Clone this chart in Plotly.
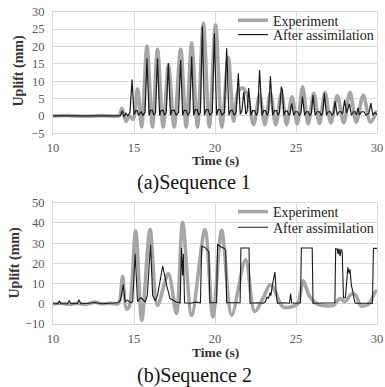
import plotly.graph_objects as go

# ---------------- data ----------------
# (a) Sequence 1 : Experiment
exp1_t = [10.0, 11.0, 12.0, 13.0, 14.0, 14.12, 14.25, 14.38, 14.52, 14.72, 14.95, 15.22, 15.47,
          15.8, 16.14, 16.45, 16.8, 17.13, 17.48, 17.88, 18.22, 18.56, 18.92, 19.28, 19.65,
          20.03, 20.42, 20.82, 21.15, 21.42, 21.72, 22.0, 22.38, 22.75, 23.08, 23.42, 23.75,
          24.1, 24.42, 24.75, 25.08, 25.41, 25.75, 26.1, 26.45, 26.79, 27.15, 27.55, 27.95,
          28.33, 28.72, 29.15, 29.6, 30.0]
exp1_y = [0.0, 0.1, -0.1, 0.1, 0.0, 0.3, 2.2, 0.2, -1.6, 0.0, -1.0, 7.8, -3.2,
          20.1, -3.2, 19.2, -3.2, 14.5, -3.2, 19.2, -3.2, 21.0, -3.2, 26.7, -3.2,
          26.2, -3.2, 16.8, -1.5, 7.0, 8.0, 6.0, -2.5, 6.0, -2.5, 6.5, -2.5,
          6.5, -2.5, 5.5, -2.3, 8.4, -2.3, 6.5, -2.2, 6.8, -2.0, 5.8, -2.0,
          6.8, -1.8, 6.0, -1.8, 1.5]

# (a) Sequence 1 : After assimilation
asm1_t = [10.0, 14.15, 14.28, 14.38, 14.5, 14.62, 14.75, 14.88,
          15.0, 15.1, 15.2, 15.28, 15.45, 15.55, 15.68, 15.8,
          15.93, 16.02, 16.14, 16.22, 16.33, 16.45,
          16.58, 16.67, 16.8, 16.88, 16.99, 17.12,
          17.25, 17.35, 17.5, 17.6, 17.75, 17.88,
          18.0, 18.1, 18.22, 18.32, 18.44, 18.56,
          18.68, 18.78, 18.9, 19.0, 19.1, 19.22,
          19.35, 19.45, 19.58, 19.68, 19.83, 19.96,
          20.1, 20.2, 20.32, 20.42, 20.58, 20.72,
          20.86, 20.96, 21.08, 21.18, 21.3, 21.44,
          21.56, 21.66, 21.78, 21.9, 21.98, 22.08,
          22.22, 22.32, 22.45, 22.55, 22.64, 22.75,
          22.9, 23.0, 23.12, 23.22, 23.3, 23.42,
          23.56, 23.66, 23.8, 23.9, 23.98, 24.09, 24.16,
          24.25, 24.35, 24.47, 24.56, 24.64, 24.73,
          24.86, 24.96, 25.1, 25.2, 25.3, 25.4,
          25.53, 25.63, 25.76, 25.86, 25.95, 26.05,
          26.18, 26.3, 26.45, 26.55, 26.65, 26.75,
          26.88, 26.98, 27.12, 27.22, 27.32, 27.41,
          27.55, 27.65, 27.78, 27.88, 28.0, 28.12, 28.3,
          28.42, 28.55, 28.65, 28.74, 28.82, 28.92,
          29.05, 29.2, 29.32, 29.5, 29.62, 29.74, 29.85, 30.0]
asm1_y = [0.0, 0.0, 1.5, -0.3, 0.8, 0.0, 1.0, 10.5,
          0.3, 1.5, 1.5, 0.2, 1.2, 0.2, 1.0, 16.6,
          0.2, 1.6, 1.6, 0.2, 1.0, 16.5,
          0.2, 1.6, 1.6, 0.2, 1.0, 15.2,
          0.2, 1.6, 1.6, 0.2, 1.0, 16.1,
          0.2, 1.6, 1.6, 0.2, 1.0, 17.1,
          0.2, 1.8, 1.8, 0.2, 1.0, 25.8,
          0.2, 1.8, 1.8, 0.2, 1.0, 23.8,
          0.2, 1.8, 1.8, 0.2, 1.0, 19.5,
          0.2, 1.6, 1.6, 0.2, 1.0, 12.3,
          0.5, 1.5, 7.0, 0.5, 1.2, 8.0,
          0.2, 1.5, 1.5, 0.2, 1.0, 13.2,
          0.2, 1.5, 1.5, 0.2, 1.0, 11.4,
          0.2, 1.5, 1.5, 0.2, 1.0, 8.4, 7.4,
          0.2, 1.4, 1.4, 0.2, 0.8, 3.6,
          0.2, 1.2, 1.2, 0.2, 0.8, 5.6,
          0.2, 1.2, 1.2, 0.2, 0.8, 6.0,
          0.2, 1.2, 1.2, 0.2, 0.8, 6.5,
          0.2, 1.2, 1.2, 0.2, 0.8, 4.2,
          0.2, 1.2, 1.2, 0.5, 4.6, 0.8, 3.5,
          0.2, 1.2, 1.2, 0.3, 2.3, 0.3,
          1.2, 1.2, 0.2, 0.8, 3.7, 0.2, 1.0, 0.5]

# (b) Sequence 2 : Experiment
exp2_t = [10.0, 10.5, 11.0, 11.5, 12.0, 12.6, 13.0, 13.5, 14.0, 14.12, 14.3, 14.53, 14.7,
          15.1, 15.48, 15.99, 16.45, 17.12, 17.62, 18.0, 18.56, 19.38, 19.87, 20.41, 21.03,
          21.88, 22.45, 22.95, 23.4, 23.6, 24.2, 24.7, 25.1, 25.45, 25.8, 26.28, 26.8, 27.3,
          27.72, 28.0, 28.45, 28.7, 29.0, 29.5, 29.88, 30.0]
exp2_y = [0.0, 0.3, -0.2, 0.3, -0.3, 0.8, 0.0, 0.3, 0.0, 1.5, 13.6, -2.6, -1.5,
          36.0, -8.2, 36.7, -0.8, 14.9, -4.8, 40.2, -5.7, 36.7, -6.5, 36.3, -5.7,
          21.7, -3.8, 2.5, 9.5, 8.0, -1.6, -1.5, 0.0, 11.4, 4.2, 0.0, -1.0, -0.8,
          2.6, 1.0, 5.0, 4.2, -1.0, 0.0, 5.8, 6.5]

# (b) Sequence 2 : After assimilation
asm2_t = [10.0, 10.3, 10.39, 10.5, 10.9, 11.0, 11.1, 11.5, 11.6, 11.72, 12.2, 12.6, 13.0,
          13.6, 14.0, 14.15, 14.34, 14.45, 14.6, 14.8, 14.92, 15.07, 15.22, 15.35, 15.45,
          15.55, 15.7, 15.82, 16.02, 16.15, 16.3, 16.45, 16.77, 17.02, 17.22, 17.4, 17.6,
          17.85, 17.93, 18.0, 18.05, 18.12, 18.5, 18.8, 19.1, 19.18, 19.35, 19.55, 19.62,
          19.68, 20.0, 20.1, 20.16, 20.3, 20.55, 20.66, 20.72, 21.0, 21.3, 21.55, 21.6,
          22.1, 22.16, 22.6, 23.0, 23.12, 23.2, 23.3, 23.4, 23.45, 23.54, 23.62, 23.7,
          23.78, 23.85, 24.3, 24.6, 24.67, 24.73, 25.0, 25.28, 25.33, 26.0, 26.05, 26.6,
          27.0, 27.4, 27.45, 27.55, 27.6, 27.65, 27.72, 27.78, 27.85, 27.93, 28.05, 28.2,
          28.28, 28.33, 28.42, 28.5, 28.58, 28.65, 29.0, 29.4, 29.72, 29.78, 30.0]
asm2_y = [0.0, 0.0, 1.3, 0.0, 0.0, 1.6, 0.0, 0.2, 2.0, 0.0, 0.3, 0.6, 0.0,
          0.3, 0.5, 1.5, 9.5, 1.0, 1.8, 0.5, 1.0, 24.8, 1.0, 2.5, 3.0,
          2.0, 1.0, 4.0, 29.3, 4.2, 1.5, 4.0, 18.7, 9.1, 2.6, 1.9, 0.9,
          0.5, 27.6, 14.0, 24.8, 0.5, 0.3, 0.8, 0.5, 28.5, 28.0, 26.5, 25.5,
          0.5, 0.3, 0.5, 29.5, 28.5, 27.5, 26.5, 0.5, 0.5, 0.3, 0.5, 27.6,
          27.6, 0.3, 0.5, 0.3, 1.0, 3.4, 2.5, 5.5, 4.0, 9.1, 12.0, 15.7,
          5.0, 0.3, 0.5, 0.3, 5.0, 0.5, 0.3, 0.5, 27.6, 27.6, 0.3, 0.3,
          0.3, 0.5, 27.3, 27.0, 24.6, 27.3, 23.6, 27.0, 26.0, 3.0, 3.0, 18.0,
          15.0, 17.0, 9.0, 6.5, 2.5, 0.3, 0.3, 0.5, 0.3, 27.4, 27.4]

x_ticks = [10, 15, 20, 25, 30]
y1_ticks = [-5, 0, 5, 10, 15, 20, 25, 30]
y2_ticks = [-10, 0, 10, 20, 30, 40, 50]
series_names = ["Experiment", "After assimilation"]
captions = ["(a)Sequence 1", "(b)Sequence 2"]

# ---------------- styling ----------------
W, H = 385, 387
FONT = "Liberation Serif"
GRAY = "#a6a6a6"
BLACK = "#1a1a1a"
GRID = "#d9d9d9"
TICKC = "#595959"

def px_x(p):
    return p / W

def px_y(p):
    return (H - p) / H

fig = go.Figure()

fig.add_trace(go.Scatter(x=exp1_t, y=exp1_y, mode="lines", name=series_names[0],
                         line=dict(color=GRAY, width=3.6, shape="spline", smoothing=0.9),
                         xaxis="x", yaxis="y", legend="legend", hoverinfo="skip"))
fig.add_trace(go.Scatter(x=asm1_t, y=asm1_y, mode="lines", name=series_names[1],
                         line=dict(color=BLACK, width=1.2),
                         xaxis="x", yaxis="y", legend="legend2", hoverinfo="skip"))
fig.add_trace(go.Scatter(x=exp2_t, y=exp2_y, mode="lines", name=series_names[0],
                         line=dict(color=GRAY, width=3.6, shape="spline", smoothing=0.9),
                         xaxis="x2", yaxis="y2", legend="legend3", hoverinfo="skip"))
fig.add_trace(go.Scatter(x=asm2_t, y=asm2_y, mode="lines", name=series_names[1],
                         line=dict(color=BLACK, width=1.1),
                         xaxis="x2", yaxis="y2", legend="legend4", hoverinfo="skip"))

xdom = [px_x(53), px_x(377)]
axis_common = dict(showgrid=True, gridcolor=GRID, gridwidth=1, zeroline=False,
                   showline=True, linecolor=GRID, linewidth=1, mirror=True,
                   ticks="", automargin=False, ticklabeloverflow="allow",
                   tickfont=dict(family=FONT, size=12.5, color=TICKC))

fig.update_layout(
    width=W, height=H, autosize=False,
    margin=dict(l=0, r=0, t=0, b=0, autoexpand=False),
    paper_bgcolor="white", plot_bgcolor="white",
    font=dict(family=FONT, color="#222222"),
    xaxis=dict(domain=xdom, range=[10, 30], tickvals=x_ticks, anchor="y",
               ticklabelstandoff=3, **axis_common),
    yaxis=dict(domain=[px_y(133.3), px_y(11.7)], range=[-5, 30], tickvals=y1_ticks,
               anchor="x", ticklabelstandoff=5, **axis_common),
    xaxis2=dict(domain=xdom, range=[10, 30], tickvals=x_ticks, anchor="y2",
                ticklabelstandoff=3, **axis_common),
    yaxis2=dict(domain=[px_y(324), px_y(202.7)], range=[-10, 50], tickvals=y2_ticks,
                anchor="x2", ticklabelstandoff=5, **axis_common),
    showlegend=True,
    hovermode=False,
)

leg_common = dict(font=dict(family=FONT, size=14, color="#222222"), bgcolor="rgba(0,0,0,0)",
                  borderwidth=0, yanchor="middle", itemwidth=30,
                  orientation="v", traceorder="normal")
leg_x = px_x(233)
fig.update_layout(
    legend=dict(x=leg_x, xanchor="left", y=px_y(20.7), **leg_common),
    legend2=dict(x=leg_x, xanchor="left", y=px_y(35), **leg_common),
    legend3=dict(x=leg_x, xanchor="left", y=px_y(212), **leg_common),
    legend4=dict(x=leg_x, xanchor="left", y=px_y(227.7), **leg_common),
)

ann = []
# axis titles
ann.append(dict(text="<b>Time (s)</b>", x=px_x(215), y=px_y(160.5), xref="paper", yref="paper",
                showarrow=False, xanchor="center", yanchor="middle",
                font=dict(family=FONT, size=13.5, color="#333333")))
ann.append(dict(text="<b>Time (s)</b>", x=px_x(215), y=px_y(352.5), xref="paper", yref="paper",
                showarrow=False, xanchor="center", yanchor="middle",
                font=dict(family=FONT, size=13.5, color="#333333")))
ann.append(dict(text="<b>Uplift (mm)</b>", x=px_x(18.5), y=px_y(71), xref="paper", yref="paper",
                showarrow=False, xanchor="center", yanchor="middle", textangle=-90,
                font=dict(family=FONT, size=14, color="#333333")))
ann.append(dict(text="<b>Uplift (mm)</b>", x=px_x(14.5), y=px_y(263), xref="paper", yref="paper",
                showarrow=False, xanchor="center", yanchor="middle", textangle=-90,
                font=dict(family=FONT, size=14, color="#333333")))
# captions
ann.append(dict(text=captions[0], x=px_x(193.5), y=px_y(182.5), xref="paper", yref="paper",
                showarrow=False, xanchor="center", yanchor="middle",
                font=dict(family=FONT, size=20, color="#111111")))
ann.append(dict(text=captions[1], x=px_x(194.5), y=px_y(375), xref="paper", yref="paper",
                showarrow=False, xanchor="center", yanchor="middle",
                font=dict(family=FONT, size=20, color="#111111")))
fig.update_layout(annotations=ann)

# remove the page's default body margin so the figure sits at the window origin
page_js = ("document.body.style.margin='0';"
           "document.documentElement.style.overflow='hidden';"
           "document.body.style.overflow='hidden';")
fig.write_html("out.html", post_script=page_js,
               config={"displayModeBar": False, "staticPlot": True})
